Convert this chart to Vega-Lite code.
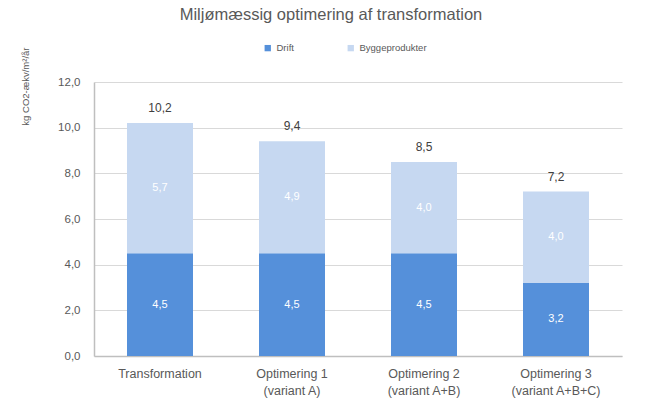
{
  "$schema": "https://vega.github.io/schema/vega-lite/v6.json",
  "width": 528,
  "height": 274,
  "autosize": {"type": "none"},
  "padding": {"left": 94, "top": 82, "right": 35, "bottom": 42},
  "background": "white",
  "config": {
    "locale": {"number": {"decimal": ",", "thousands": ".", "grouping": [3], "currency": ["", " kr."]}},
    "view": {"stroke": null},
    "font": "Liberation Sans"
  },
  "title": {
    "text": "Miljømæssig optimering af transformation",
    "fontSize": 16.5,
    "fontWeight": "normal",
    "color": "#595959",
    "anchor": "middle",
    "frame": "group",
    "baseline": "top",
    "dx": -27,
    "dy": 18,
    "offset": 38
  },
  "data": {
    "values": [
      {"scenario": "Transformation", "component": "Drift", "ord": 1, "value": 4.5},
      {"scenario": "Transformation", "component": "Byggeprodukter", "ord": 2, "value": 5.7},
      {"scenario": "Optimering 1|(variant A)", "component": "Drift", "ord": 1, "value": 4.5},
      {"scenario": "Optimering 1|(variant A)", "component": "Byggeprodukter", "ord": 2, "value": 4.9},
      {"scenario": "Optimering 2|(variant A+B)", "component": "Drift", "ord": 1, "value": 4.5},
      {"scenario": "Optimering 2|(variant A+B)", "component": "Byggeprodukter", "ord": 2, "value": 4.0},
      {"scenario": "Optimering 3|(variant A+B+C)", "component": "Drift", "ord": 1, "value": 3.2},
      {"scenario": "Optimering 3|(variant A+B+C)", "component": "Byggeprodukter", "ord": 2, "value": 4.0}
    ]
  },
  "encoding": {
    "x": {
      "field": "scenario",
      "type": "nominal",
      "sort": null,
      "scale": {"paddingInner": 0.5, "paddingOuter": 0.25},
      "axis": {
        "title": null,
        "labelAngle": 0,
        "labelExpr": "split(datum.label, '|')",
        "labelFontSize": 12.5,
        "labelColor": "#595959",
        "labelPadding": 11,
        "labelLineHeight": 17,
        "ticks": false,
        "domainColor": "#bfbfbf",
        "domainWidth": 1.5
      }
    }
  },
  "layer": [
    {
      "mark": {"type": "bar"},
      "encoding": {
        "y": {
          "field": "value",
          "type": "quantitative",
          "stack": "zero",
          "scale": {"domain": [0, 12]},
          "axis": {
            "values": [0, 2, 4, 6, 8, 10, 12],
            "format": ".1f",
            "title": "kg CO2-ækv/m²/år",
            "titleFontSize": 9.5,
            "titleFontWeight": "normal",
            "titleColor": "#595959",
            "titleAngle": -90,
            "titleAlign": "right",
            "titleBaseline": "middle",
            "titleX": -69,
            "titleY": -35,
            "labelFontSize": 11.5,
            "labelColor": "#595959",
            "labelPadding": 14,
            "ticks": false,
            "domain": true,
            "domainColor": "#bfbfbf",
            "domainWidth": 1.5,
            "gridColor": "#d9d9d9"
          }
        },
        "color": {
          "field": "component",
          "type": "nominal",
          "scale": {"domain": ["Drift", "Byggeprodukter"], "range": ["#5590DA", "#C6D8F1"]},
          "legend": {
            "title": null,
            "orient": "none",
            "direction": "horizontal",
            "legendX": 169,
            "legendY": -39,
            "symbolType": "square",
            "symbolSize": 40,
            "labelFontSize": 9.5,
            "labelColor": "#595959",
            "columnPadding": 52
          }
        },
        "order": {"field": "ord", "type": "quantitative"}
      }
    },
    {
      "transform": [
        {"stack": "value", "groupby": ["scenario"], "sort": [{"field": "ord"}], "as": ["v0", "v1"]},
        {"fold": ["v0", "v1"], "as": ["edge", "pos"]},
        {"aggregate": [{"op": "mean", "field": "pos", "as": "mid"}], "groupby": ["scenario", "component", "value"]}
      ],
      "mark": {"type": "text", "color": "white", "fontSize": 11},
      "encoding": {
        "y": {"field": "mid", "type": "quantitative"},
        "text": {"field": "value", "type": "quantitative", "format": ".1f"}
      }
    },
    {
      "transform": [
        {"aggregate": [{"op": "sum", "field": "value", "as": "total"}], "groupby": ["scenario"]}
      ],
      "mark": {"type": "text", "color": "#404040", "fontSize": 12, "dy": -15},
      "encoding": {
        "y": {"field": "total", "type": "quantitative"},
        "text": {"field": "total", "type": "quantitative", "format": ".1f"}
      }
    }
  ]
}
